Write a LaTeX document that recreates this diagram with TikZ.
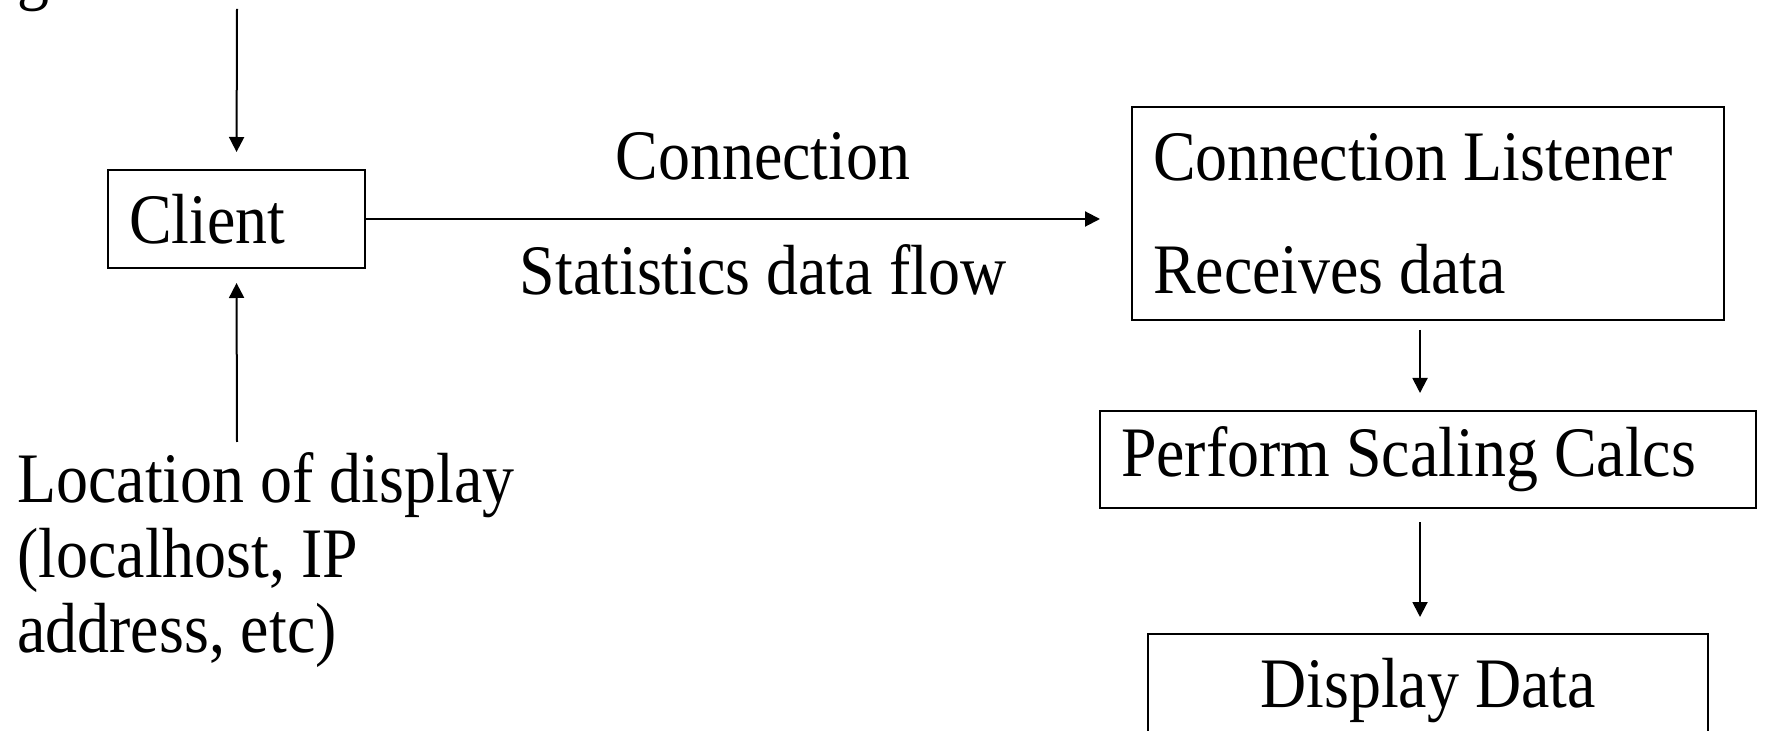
\documentclass[tikz,border=0pt]{standalone}
\usepackage{fontspec}
\setmainfont{Liberation Serif}[FakeStretch=0.9]
\usetikzlibrary{arrows.meta, positioning, calc}

\begin{document}
\begin{tikzpicture}[x=0.5pt,y=-0.5pt,
  every node/.style={font=\fontsize{35.5}{37.5}\selectfont},
  box/.style={draw, line width=1pt, inner xsep=10.5pt, inner ysep=0pt, align=flush left},
  txt/.style={inner sep=0pt},
  flow/.style={-{Triangle[width=7.5pt,length=7.5pt]}, line width=1pt}]
  \path[use as bounding box] (0,0) rectangle (1765,731);
  \clip (0,0) rectangle (1765,731);

  % Client side
  \node[txt, anchor=base west] (gtail) at (17,-3) {g};
  \node[box, minimum width=128.5pt, minimum height=49pt, text width=107.5pt] (cli) at (236.5,219) {Client};
  \node[txt, anchor=north west, align=left] (loc) at (17,452) {Location of display\\(localhost, IP\\address, etc)};
  \coordinate (inTop) at (237,9);
  \coordinate (inLoc) at (237,442);

  % Link labels
  \node[txt, anchor=base] (conn) at (763,180) {Connection};
  \node[txt, anchor=base] (stat) at (763,295) {Statistics data flow};

  % Server side
  \node[box, minimum width=296pt, minimum height=106.5pt, text width=275pt] (lst) at (1428,213.5)
    {Connection Listener\\[19pt]Receives data};
  \node[box, minimum width=328pt, minimum height=48.5pt, text width=307pt] (scl) at (1428,459.5)
    {Perform Scaling Calcs};
  \node[box, align=flush center, minimum width=280pt, minimum height=56.5pt, text width=259pt] (dsp) at (1428,690.5)
    {Display Data};

  % Connectors
  \draw[flow, shorten >=8.5pt] (inTop) -- (cli.north);
  \draw[flow, shorten >=7pt] (inLoc) -- (cli.south);
  \draw[flow, shorten >=15.5pt] (cli.east) -- (cli.east -| lst.west);
  \draw[flow, shorten <=4.5pt, shorten >=8.5pt] ([xshift=-4pt]lst.south) -- ([xshift=-4pt]scl.north);
  \draw[flow, shorten <=6.5pt, shorten >=8pt] ([xshift=-4pt]scl.south) -- ([xshift=-4pt]dsp.north);
\end{tikzpicture}
\end{document}
